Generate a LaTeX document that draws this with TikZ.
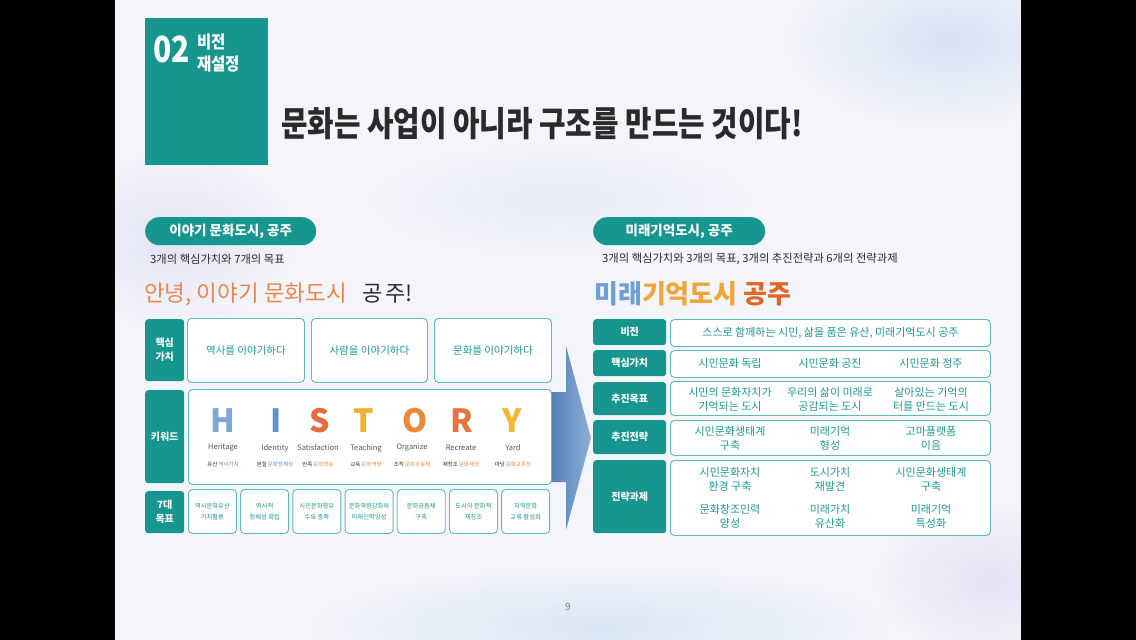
\documentclass[tikz,border=0pt]{standalone}
\usepackage{fontspec}
\usepackage{graphicx}
\usepackage{xcolor}
\setmainfont{Noto Sans CJK KR}
\usetikzlibrary{positioning}

\definecolor{tealbox}{HTML}{17968F}
\definecolor{cellline}{HTML}{62BAB4}
\definecolor{celltext}{HTML}{1E9A92}
\definecolor{slidebg}{HTML}{F4F5FA}
\definecolor{darktext}{HTML}{2A2A2A}
\definecolor{hello}{HTML}{E8864E}
\definecolor{miblue}{HTML}{6E9FD6}
\definecolor{miyellow}{HTML}{F2A536}
\definecolor{mired}{HTML}{E0672A}
\definecolor{kwblue}{HTML}{5E93CF}
\definecolor{kworange}{HTML}{EC8A3A}

\begin{document}
\begin{tikzpicture}[x=1pt, y=-1pt,
  lbl/.style={fill=tealbox, rounded corners=3pt, text=white, font=\fontsize{10}{14}\selectfont\bfseries, align=center, inner sep=0pt, anchor=north west},
  cell/.style={draw=cellline, fill=white, rounded corners=4pt, line width=0.9pt, text=celltext, align=center, inner sep=0pt, anchor=north west},
  txt/.style={text=celltext, font=\fontsize{11}{14}\selectfont, align=center, inner sep=0pt},
  goal/.style={cell, minimum width=48, minimum height=44, font=\fontsize{6.3}{11}\selectfont},
  pill/.style={fill=tealbox, rounded corners=14pt, text=white, font=\fontsize{13.5}{16}\selectfont\bfseries, inner sep=0pt, minimum height=28},
  chaptxt/.style={text=white, font=\fontsize{15.5}{18}\selectfont\bfseries, inner sep=0pt, anchor=west},
  kw/.style={font=\fontsize{32}{32}\selectfont\bfseries, inner sep=0pt},
  kwword/.style={text=darktext!80, font=\fontsize{7.5}{9}\selectfont, inner sep=0pt},
  kwsub/.style={text=darktext, font=\fontsize{5.5}{7}\selectfont, inner sep=0pt}
]
\useasboundingbox (0,0) rectangle (1136,640);
\clip (0,0) rectangle (1136,640);

% slide background
\fill[slidebg] (115,0) rectangle (1021,640);
\shade[inner color={rgb,255:red,214;green,226;blue,245}, outer color=slidebg] (950,40) ellipse [x radius=170, y radius=90];
\shade[inner color={rgb,255:red,226;green,228;blue,246}, outer color=slidebg] (170,240) ellipse [x radius=130, y radius=90];
\shade[inner color={rgb,255:red,216;green,230;blue,245}, outer color=slidebg] (600,625) ellipse [x radius=300, y radius=60];
\shade[inner color={rgb,255:red,230;green,224;blue,244}, outer color=slidebg] (990,580) ellipse [x radius=120, y radius=80];
\shade[inner color={rgb,255:red,232;green,236;blue,248}, outer color=slidebg] (560,200) ellipse [x radius=200, y radius=60];
\fill[black] (0,0) rectangle (115,640);
\fill[black] (1021,0) rectangle (1136,640);

% title
\node[fill=tealbox, minimum width=123, minimum height=147, inner sep=0pt, anchor=north west] (chap) at (145,18) {};
\node[text=white, font=\fontsize{30}{30}\selectfont\bfseries, inner sep=0pt, anchor=west] (chapno) at (153,49) {\scalebox{1}[1.2]{02}};
\node[chaptxt] (chapname) at (197,42) {\scalebox{1}[1.12]{비전}};
\node[chaptxt] (chapsub) at (197,64) {\scalebox{1}[1.12]{재설정}};
\node[text=darktext, font=\fontsize{30}{30}\selectfont\bfseries, inner sep=0pt, anchor=west] (headline) at (281,124) {\scalebox{0.96}[1.15]{문화는 사업이 아니라 구조를 만드는 것이다!}};

% left panel
\node[pill, minimum width=171, anchor=north west] (oldpill) at (145,217) {이야기 문화도시, 공주};
\node[text=darktext, font=\fontsize{11.3}{13}\selectfont, inner sep=0pt, anchor=west] (oldsub) at (150,259) {3개의 핵심가치와 7개의 목표};
\node[text=hello, font=\fontsize{22.5}{26}\selectfont, inner sep=0pt, anchor=west] (oldhello) at (144,294) {안녕, 이야기 문화도시};
\node[text=darktext, font=\fontsize{22}{26}\selectfont, inner sep=0pt, anchor=west] (oldcity) at (362,294) {공\hspace{3pt}주!};

% blue arrow
\shade[left color={rgb,255:red,70;green,115;blue,170}, right color={rgb,255:red,140;green,175;blue,216}]
  (540,392) -- (566,392) -- (566,346) -- (591,438) -- (566,530) -- (566,482) -- (540,482) -- cycle;

\node[lbl, minimum width=39, minimum height=62] (valL) at (145,319) {핵심\\가치};
\node[cell, minimum width=117, minimum height=64, font=\fontsize{10.5}{12}\selectfont] (val1) at (187,318) {역사를 이야기하다};
\node[cell, minimum width=116, minimum height=64, font=\fontsize{10.5}{12}\selectfont] (val2) at (311,318) {사람을 이야기하다};
\node[cell, minimum width=117, minimum height=64, font=\fontsize{10.5}{12}\selectfont] (val3) at (434,318) {문화를 이야기하다};

\node[lbl, minimum width=39, minimum height=93] (kwL) at (145,390) {키워드};
\node[cell, minimum width=363, minimum height=95] (kwbox) at (188,389) {};
\node[kw, text={rgb,255:red,126;green,166;blue,214}] (kH) at (223,421) {H};
\node[kw, text=kwblue] (kI) at (276,421) {I};
\node[kw, text={rgb,255:red,229;green,107;blue,62}] (kS) at (320,421) {S};
\node[kw, text={rgb,255:red,242;green,176;blue,47}] (kT) at (364,421) {T};
\node[kw, text=kworange] (kO) at (415,421) {O};
\node[kw, text={rgb,255:red,231;green,115;blue,63}] (kR) at (462,421) {R};
\node[kw, text={rgb,255:red,244;green,183;blue,49}] (kY) at (512,421) {Y};
\node[kwword] (wH) at (223,448) {Heritage};
\node[kwword] (wI) at (275,448) {Identity};
\node[kwword] (wS) at (318,448) {Satisfaction};
\node[kwword] (wT) at (366,448) {Teaching};
\node[kwword] (wO) at (412,448) {Organize};
\node[kwword] (wR) at (461,448) {Recreate};
\node[kwword] (wY) at (513,448) {Yard};
\node[kwsub] (sH) at (223,464) {유산\,\textcolor{kwblue}{역사가치}};
\node[kwsub] (sI) at (275,464) {본질\,\textcolor{kwblue}{문화정체성}};
\node[kwsub] (sS) at (318,464) {만족\,\textcolor{kworange}{문화향유}};
\node[kwsub] (sT) at (366,464) {교육\,\textcolor{kworange}{문화역량}};
\node[kwsub] (sO) at (412,464) {조직\,\textcolor{kworange}{문화공동체}};
\node[kwsub] (sR) at (461,464) {재창조\,\textcolor{kworange}{문화재생}};
\node[kwsub] (sY) at (513,464) {마당\,\textcolor{kworange}{문화교류장}};

\node[lbl, minimum width=39, minimum height=42] (goalL) at (145,491) {7대\\목표};
\node[goal] (g1) at (188,489) {역사문화유산\\가치활용};
\node[goal] (g2) at (240.2,489) {역사적\\정체성 확립};
\node[goal] (g3) at (292.4,489) {시민문화향유\\수요 충족};
\node[goal] (g4) at (344.6,489) {문화역량강화와\\미래인력양성};
\node[goal] (g5) at (396.8,489) {문화공동체\\구축};
\node[goal] (g6) at (449,489) {도시의 문화적\\재창조};
\node[goal] (g7) at (501.2,489) {지역문화\\교류 활성화};

% right panel
\node[pill, minimum width=172, anchor=north west] (newpill) at (593,217) {미래기억도시, 공주};
\node[text=darktext, font=\fontsize{11.3}{13}\selectfont, inner sep=0pt, anchor=west] (newsub) at (602,259) {3개의 핵심가치와 3개의 목표, 3개의 추진전략과 6개의 전략과제};
\node[font=\fontsize{26}{28}\selectfont\bfseries, inner sep=0pt, anchor=west] (newhello) at (594,294) {\textcolor{miblue}{미래}\textcolor{miyellow}{기억도시} \textcolor{mired}{공주}};

\node[lbl, minimum width=73, minimum height=26] (visL) at (593,319) {비전};
\node[cell, minimum width=320, minimum height=27, font=\fontsize{11}{14}\selectfont] (vis) at (670,319) {스스로 함께하는 시민, 삶을 품은 유산, 미래기억도시 공주};

\node[lbl, minimum width=73, minimum height=26] (coreL) at (593,350) {핵심가치};
\node[cell, minimum width=320, minimum height=27] (core) at (670,350) {};
\node[txt] (core1) at (730,363) {시민문화 독립};
\node[txt] (core2) at (830,363) {시민문화 공진};
\node[txt] (core3) at (931,363) {시민문화 정주};

\node[lbl, minimum width=73, minimum height=33] (aimL) at (593,382) {추진목표};
\node[cell, minimum width=320, minimum height=34] (aim) at (670,381) {};
\node[txt] (aim1) at (730,399) {시민의 문화자치가\\기억되는 도시};
\node[txt] (aim2) at (830,399) {우리의 삶이 미래로\\공감되는 도시};
\node[txt] (aim3) at (931,399) {살아있는 기억의\\터를 만드는 도시};

\node[lbl, minimum width=73, minimum height=34] (stratL) at (593,420) {추진전략};
\node[cell, minimum width=320, minimum height=35] (strat) at (670,420) {};
\node[txt] (strat1) at (730,438) {시민문화생태계\\구축};
\node[txt] (strat2) at (830,438) {미래기억\\형성};
\node[txt] (strat3) at (931,438) {고마플랫폼\\이음};

\node[lbl, minimum width=73, minimum height=73] (taskL) at (593,460) {전략과제};
\node[cell, minimum width=320, minimum height=75] (task) at (670,460) {};
\node[txt] (task1) at (730,479) {시민문화자치\\환경 구축};
\node[txt] (task2) at (830,479) {도시가치\\재발견};
\node[txt] (task3) at (931,479) {시민문화생태계\\구축};
\node[txt] (task4) at (730,516) {문화창조인력\\양성};
\node[txt] (task5) at (830,516) {미래가치\\유산화};
\node[txt] (task6) at (931,516) {미래기억\\특성화};

\node[text=gray, font=\fontsize{10}{12}\selectfont, inner sep=0pt] (pageno) at (568,607) {9};
\end{tikzpicture}
\end{document}
